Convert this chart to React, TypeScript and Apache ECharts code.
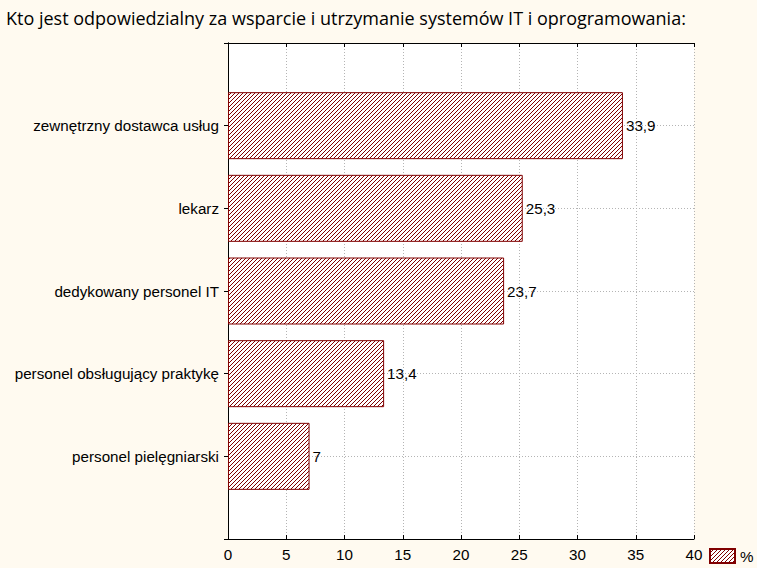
import React, { useEffect, useRef } from "react";
import * as echarts from "echarts";

const titleText = "Kto jest odpowiedzialny za wsparcie i utrzymanie systemów IT i oprogramowania:";
const categories = [
  "zewnętrzny dostawca usług",
  "lekarz",
  "dedykowany personel IT",
  "personel obsługujący praktykę",
  "personel pielęgniarski",
];
const values = [33.9, 25.3, 23.7, 13.4, 7];
const seriesName = "%";
const xMin = 0;
const xMax = 40;
const xInterval = 5;

const FONT = "'Liberation Sans', Arial, sans-serif";
const FS = 15.2;
const DARK = "#800000";

function makeHatch(): HTMLCanvasElement {
  const c = document.createElement("canvas");
  c.width = 8;
  c.height = 8;
  const ctx = c.getContext("2d")!;
  ctx.fillStyle = "#ffffff";
  ctx.fillRect(0, 0, 8, 8);
  ctx.fillStyle = DARK;
  for (let y = 0; y < 8; y++) {
    for (let x = 0; x < 8; x++) {
      if ((x + y) % 4 === 3) ctx.fillRect(x, y, 1, 1);
    }
  }
  return c;
}

export default function App() {
  const ref = useRef<HTMLDivElement>(null);
  useEffect(() => {
    if (!ref.current) return;
    const chart = echarts.init(ref.current, null, { renderer: "svg" });
    const axisData = ["", ...categories, ""];
    const seriesData: any[] = [null, ...values, null];
    const hatch = { image: makeHatch(), repeat: "repeat", imageWidth: 8, imageHeight: 8 } as any;
    const grid = { left: 228, right: 63, top: 43, bottom: 29 };
    chart.setOption({
      animation: false,
      backgroundColor: "#fffaf0",
      title: {
        text: titleText,
        left: 1,
        top: 4,
        textStyle: { fontFamily: "'Open Sans', sans-serif", fontSize: 18, fontWeight: "normal", color: "#000" },
      },
      legend: {
        data: [seriesName],
        left: 709,
        top: 548,
        itemWidth: 25,
        itemHeight: 14,
        icon: "rect",
        padding: 0,
        textStyle: { fontFamily: FONT, fontSize: FS, color: "#000", padding: [0, 0, 0, 0] },
      },
      grid: { ...grid, outerBoundsMode: "none", containLabel: false, backgroundColor: "#ffffff", show: true, borderWidth: 0 },
      xAxis: [
        {
          type: "value",
          min: xMin,
          max: xMax,
          interval: xInterval,
          position: "bottom",
          axisLine: { show: true, lineStyle: { color: "#000", width: 1 } },
          axisTick: { show: true, inside: true, length: 4, lineStyle: { color: "#000" } },
          axisLabel: { fontFamily: FONT, fontSize: FS, color: "#000", margin: 8 },
          splitLine: { show: true, lineStyle: { color: "#b4b4b4", type: [1, 2] } },
        },
        {
          type: "value",
          min: xMin,
          max: xMax,
          interval: xInterval,
          position: "top",
          axisLine: { show: true, lineStyle: { color: "#000", width: 1 } },
          axisTick: { show: true, inside: true, length: 4, lineStyle: { color: "#000" } },
          axisLabel: { show: false },
          splitLine: { show: false },
        },
      ],
      yAxis: [
        {
          type: "category",
          data: axisData,
          inverse: true,
          boundaryGap: false,
          position: "left",
          axisLine: { show: true, lineStyle: { color: "#000", width: 1 } },
          axisTick: { show: true, inside: true, length: 4, lineStyle: { color: "#000" } },
          axisLabel: { fontFamily: FONT, fontSize: FS, color: "#000", margin: 9 },
          splitLine: { show: true, lineStyle: { color: "#b4b4b4", type: [1, 2] } },
        },
        {
          type: "category",
          data: axisData,
          inverse: true,
          boundaryGap: false,
          position: "right",
          axisLine: { show: true, lineStyle: { color: "#000", width: 1 } },
          axisTick: { show: true, inside: true, length: 4, lineStyle: { color: "#000" } },
          axisLabel: { show: false },
          splitLine: { show: false },
        },
      ],
      series: [
        {
          name: seriesName,
          type: "bar",
          data: seriesData,
          xAxisIndex: 0,
          yAxisIndex: 0,
          barWidth: 67,
          itemStyle: { color: hatch, borderColor: DARK, borderWidth: 1 },
          label: {
            show: true,
            position: "right",
            distance: 3,
            fontFamily: FONT,
            fontSize: FS,
            color: "#000",
            formatter: (p: any) => String(p.value).replace(".", ","),
          },
        },
      ],
    });
    return () => chart.dispose();
  }, []);
  return <div ref={ref} style={{ position: "absolute", left: 0, top: 0, width: 757, height: 568 }} />;
}
